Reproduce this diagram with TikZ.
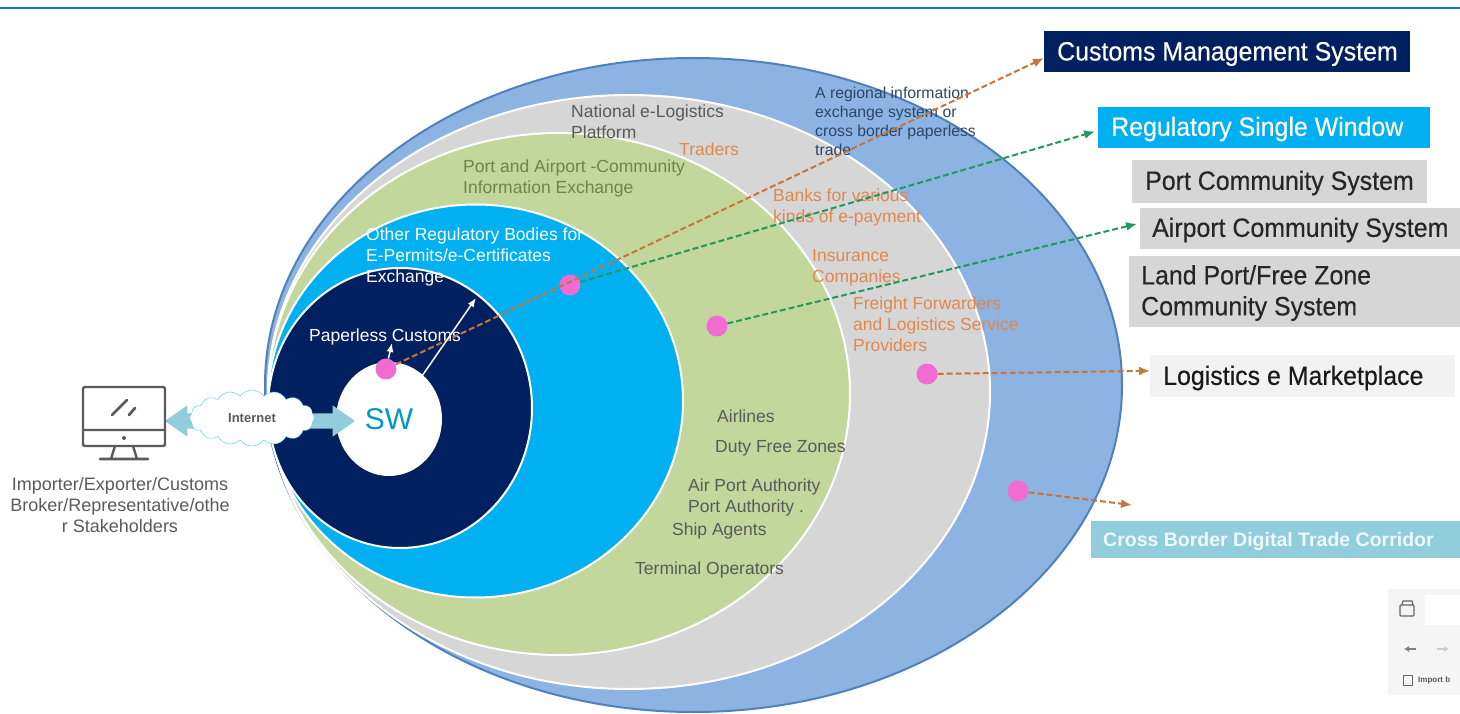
\documentclass[tikz,border=0pt]{standalone}
\usepackage{fontspec}
\setmainfont{Liberation Sans}
\newfontfamily\boxfont[FakeStretch=0.94,FakeBold=0.35]{Liberation Sans}
\usetikzlibrary{shapes.geometric,shapes.symbols,shapes.arrows,arrows.meta}
\definecolor{navybox}{HTML}{002060}
\definecolor{cyanbox}{HTML}{00B0F0}
\definecolor{ringblue}{HTML}{8DB3E2}
\definecolor{ringedge}{HTML}{4F81BD}
\definecolor{ringgrey}{HTML}{D6D6D6}
\definecolor{ringgreen}{HTML}{C3D69B}
\definecolor{orangedash}{HTML}{C8743A}
\definecolor{greendash}{HTML}{1F9A5B}
\definecolor{orangetext}{HTML}{E0894F}
\definecolor{greentext}{HTML}{6C8748}
\definecolor{greytext}{HTML}{5A5A5A}
\definecolor{pinkdot}{HTML}{F06CD2}
\definecolor{paleblue}{HTML}{92CDDC}
\definecolor{topline}{HTML}{1B75BC}
\begin{document}
\begin{tikzpicture}[
    x=1pt,y=-1pt,
    ring/.style={ellipse,draw=white,line width=2pt,inner sep=0pt},
    sysbox/.style={rectangle,anchor=north west,inner sep=0pt},
    boxtext/.style={anchor=west,align=left,inner sep=0pt,yshift=-2pt,font=\boxfont\fontsize{26.5}{31}\selectfont},
    lbl/.style={anchor=west,align=left,inner sep=0pt,yshift=-1pt,font=\fontsize{17.5}{21}\selectfont},
    dot/.style={circle,fill=pinkdot,minimum size=21pt,inner sep=0pt},
    orangearrow/.style={draw=orangedash,line width=2pt,dash pattern=on 6pt off 3pt,-{Latex[length=11pt,width=9pt]}},
    greenarrow/.style={draw=greendash,line width=2pt,dash pattern=on 6pt off 3pt,-{Latex[length=11pt,width=9pt]}},
    whitearrow/.style={draw=white,line width=1.5pt,-{Latex[length=9pt,width=7pt]}},
    ]
    \useasboundingbox (0,0) rectangle (1460,714);
    \draw[draw=topline,line width=1.5pt] (0,8) -- (1460,8);

    % nested rings
    \node[ring,draw=ringedge,fill=ringblue,minimum width=857pt,minimum height=654pt] (regional) at (693.5,385) {};
    \node[ring,fill=ringgrey,minimum width=722pt,minimum height=594pt] (national) at (629,392) {};
    \node[ring,fill=ringgreen,minimum width=582pt,minimum height=522pt] (community) at (559,394) {};
    \node[ring,fill=cyanbox,minimum width=415pt,minimum height=393pt] (regulatory) at (475.5,401) {};
    \node[ring,fill=navybox,minimum width=264pt,minimum height=280pt] (customs) at (400,408) {};
    \node[ellipse,fill=white,inner sep=0pt,minimum width=106pt,minimum height=114pt,text=cyanbox!85!black,font=\fontsize{30}{30}\selectfont] (sw) at (389,419) {SW};

    % boxes on the right
    \node[sysbox,fill=navybox,minimum width=366pt,minimum height=41pt] (cms) at (1044,31) {};
    \node[boxtext,text=white] (cmstext) at (1057,52) {Customs Management System};
    \node[sysbox,fill=cyanbox,minimum width=332pt,minimum height=41pt] (rsw) at (1098,107) {};
    \node[boxtext,text=white] (rswtext) at (1111,127) {Regulatory Single Window};
    \node[sysbox,fill=ringgrey,minimum width=295pt,minimum height=43pt] (pcs) at (1132,160) {};
    \node[boxtext,text=black!85] (pcstext) at (1145,181) {Port Community System};
    \node[sysbox,fill=ringgrey,minimum width=320pt,minimum height=41pt] (acs) at (1140,208) {};
    \node[boxtext,text=black!85] (acstext) at (1152,228) {Airport Community System};
    \node[sysbox,fill=ringgrey,minimum width=331pt,minimum height=71pt] (land) at (1129,256) {};
    \node[boxtext,text=black!85] (landtext) at (1141,291) {Land Port/Free Zone\\Community System};
    \node[sysbox,fill=black!5,minimum width=305pt,minimum height=42pt] (market) at (1150,355) {};
    \node[boxtext,text=black!90] (markettext) at (1163,376) {Logistics e Marketplace};
    \node[sysbox,fill=paleblue,minimum width=369pt,minimum height=37pt] (corridor) at (1091,521) {};
    \node[anchor=west,text=white!85!paleblue,font=\bfseries\fontsize{19.5}{26}\selectfont,inner sep=0pt] (corridortext) at (1103,541) {Cross Border Digital Trade Corridor};

    % ring labels
    \node[lbl,text=greytext] (l1) at (571,121) {National e-Logistics\\Platform};
    \node[lbl,text=orangetext] (l2) at (679,148) {Traders};
    \node[lbl,text=greentext] (l3) at (463,177) {Port and Airport -Community\\Information Exchange};
    \node[lbl,text=white] (l4) at (366,256) {Other Regulatory Bodies for\\E-Permits/e-Certificates\\Exchange};
    \node[lbl,text=white] (l5) at (309,336) {Paperless Customs};
    \node[lbl,text=black!45!ringedge,font=\fontsize{15.8}{19}\selectfont] (l6) at (815,120) {A regional information\\exchange system or\\cross border paperless\\trade};
    \node[lbl,text=orangetext] (l7) at (773,206) {Banks for various\\kinds of e-payment};
    \node[lbl,text=orangetext] (l8) at (812,267) {Insurance\\Companies};
    \node[lbl,text=orangetext] (l9) at (853,323) {Freight Forwarders\\and Logistics Service\\Providers};
    \node[lbl,text=greytext] (l10) at (717,415) {Airlines};
    \node[lbl,text=greytext] (l11) at (715,447) {Duty Free Zones};
    \node[lbl,text=greytext] (l12) at (688,496) {Air Port Authority\\Port Authority .};
    \node[lbl,text=greytext] (l13) at (672,530) {Ship Agents};
    \node[lbl,text=greytext] (l14) at (635,569) {Terminal Operators};

    % user side
    \node[double arrow,fill=paleblue,inner xsep=0pt,inner ysep=7.5pt,minimum height=190pt,double arrow head extend=8pt,double arrow head indent=0pt,double arrow tip angle=70] (link) at (260,421) {};
    \node[cloud,draw=cyanbox!70,fill=white,cloud puffs=16,cloud puff arc=110,aspect=2.4,inner sep=0pt,minimum width=125pt,minimum height=56pt,font=\bfseries\fontsize{13}{13}\selectfont,text=greytext] (internet) at (252,418) {Internet};
    \draw[greytext,line width=2.4pt,rounded corners=2pt] (83,387) rectangle (165,446);
    \draw[greytext,line width=2.4pt] (83,430) -- (165,430) (115,446) -- (111,459) (133,446) -- (137,459);
    \draw[greytext,line width=2.8pt,line cap=round] (100,459) -- (148,459) (112,415) -- (127,400) (129,415) -- (135,408);
    \fill[greytext] (124,438) circle (2pt);
    \node[align=center,text=greytext,font=\fontsize{18}{21}\selectfont,inner sep=0pt] (users) at (120,505) {Importer/Exporter/Customs\\Broker/Representative/othe\\r Stakeholders};

    % dots and connectors
    \node[dot] (dotsw) at (386,369) {};
    \node[dot] (dotreg) at (570,285) {};
    \node[dot] (dotair) at (717,326) {};
    \node[dot] (dotlog) at (927,374) {};
    \node[dot] (dotcross) at (1018,491) {};
    \coordinate (crossend) at (1132,505);
    \coordinate (rim) at (476,298);
    \coordinate (swedge) at (422,376);
    \draw[orangearrow] (dotsw) -- (cms.182);
    \draw[greenarrow,shorten >=3pt] (dotreg) -- (rsw.181);
    \draw[greenarrow,shorten >=3pt] (dotair) -- (acs.178);
    \draw[orangearrow] (dotlog) -- (market.178.5);
    \draw[orangearrow] (dotcross) -- (crossend);
    \draw[whitearrow] (dotsw) -- ++(6,-26);
    \draw[whitearrow] (swedge) -- (rim);

    % browser panel in the corner
    \node[rectangle,anchor=north west,fill=black!4,minimum width=72pt,minimum height=106pt,inner sep=0pt] (panel) at (1388,589) {};
    \node[rectangle,anchor=north west,fill=white,minimum width=35pt,minimum height=30pt,inner sep=0pt] (field) at (1425,595) {};
    \draw[black!60,line width=1.3pt,rounded corners=1pt] (1400,605) rectangle (1414,616);
    \draw[black!60,line width=1.3pt] (1402,605) -- (1403,601) -- (1412,601) -- (1413,605);
    \draw[black!50,line width=1.3pt,-{Latex[length=5pt,width=6pt]}] (1416,649) -- (1404,649);
    \draw[black!20,line width=1.3pt,-{Latex[length=5pt,width=6pt]}] (1437,649) -- (1449,649);
    \draw[black!60,line width=1pt] (1403,675) rectangle (1412,685);
    \node[anchor=west,inner sep=0pt,text=black!65,font=\bfseries\fontsize{8}{8}\selectfont] (importlbl) at (1418,680) {Import b};
\end{tikzpicture}
\end{document}
